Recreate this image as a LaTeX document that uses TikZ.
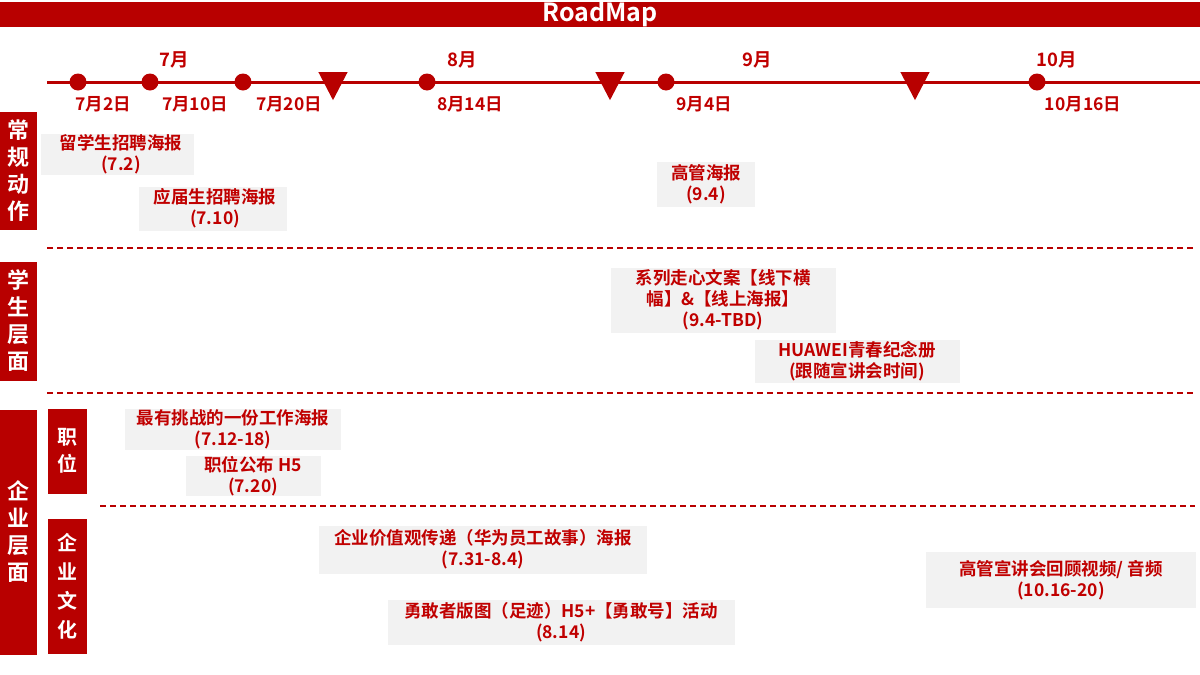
\documentclass[tikz,border=0pt]{standalone}
\usepackage{fontspec}
\usetikzlibrary{shapes.geometric}
\newfontfamily\cjk{Noto Sans CJK SC Bold}
\definecolor{hr}{HTML}{B80000}
\definecolor{tr}{HTML}{C00000}
\definecolor{bx}{HTML}{F2F2F2}
\begin{document}
\begin{tikzpicture}[x=1pt,y=-1pt,
  lab/.style={text=tr,font=\cjk\fontsize{17.5}{21}\selectfont,align=center,inner sep=0},
  side/.style={text=white,font=\cjk\fontsize{22}{27}\selectfont,align=center,inner sep=0},
  dot/.style={circle,fill=hr,minimum size=17pt,inner sep=0},
  tri/.style={isosceles triangle,shape border rotate=-90,fill=hr,minimum width=22pt,minimum height=28pt,inner sep=0,isosceles triangle apex angle=55},
  mon/.style={text=tr,font=\cjk\fontsize{18.5}{22}\selectfont,inner sep=0},
  day/.style={text=tr,font=\cjk\fontsize{17.5}{20}\selectfont,inner sep=0},
  dashline/.style={draw=hr,line width=1.5pt,dash pattern=on 6pt off 4pt}]
\useasboundingbox (0,0) rectangle (1200,675);
\fill[hr] (0,2) rectangle (1200,27);
\node[text=white,font=\cjk\fontsize{25}{26}\selectfont] (title) at (600,14) {RoadMap};
% timeline
\coordinate (ls) at (47,82); \coordinate (le) at (1200,82);
\draw[hr,line width=3pt] (ls) -- (le);
\foreach \n/\x in {d1/78,d2/150,d3/243,d4/427,d5/666,d6/1037} \node[dot] (\n) at (\x,82) {};
\foreach \n/\x in {t1/333,t2/610,t3/915} \node[tri] (\n) at (\x,81) {};
\node[mon] (m7) at (174,60) {7月};
\node[mon] (m8) at (462,60) {8月};
\node[mon] (m9) at (757,60) {9月};
\node[mon] (m10) at (1057,60) {10月};
\node[day] (a1) at (103,104) {7月2日};
\node[day] (a2) at (195,104) {7月10日};
\node[day] (a3) at (289,104) {7月20日};
\node[day] (a4) at (470,104) {8月14日};
\node[day] (a5) at (704,104) {9月4日};
\node[day] (a6) at (1083,104) {10月16日};
% side bars
\fill[hr] (0,112) rectangle (37,230); \node[side] (s1) at (18.5,171) {常\\规\\动\\作};
\fill[hr] (0,262) rectangle (37,381); \node[side] (s2) at (18.5,321) {学\\生\\层\\面};
\fill[hr] (0,410) rectangle (37,655); \node[side] (s3) at (18.5,532) {企\\业\\层\\面};
\fill[hr] (48,409) rectangle (87,494); \node[side,font=\cjk\fontsize{20}{27}\selectfont] (s4) at (67.5,451) {职\\位};
\fill[hr] (48,519) rectangle (87,654); \node[side,font=\cjk\fontsize{20}{29}\selectfont] (s5) at (67.5,586) {企\\业\\文\\化};
% dashed
\draw[dashline] (47,248) -- (1195,248);
\draw[dashline] (47,393) -- (1195,393);
\draw[dashline] (100,506) -- (1195,506);
% boxes
\fill[bx] (41,134) rectangle (194,175); \node[lab] (b1) at (121,154) {留学生招聘海报\\(7.2)};
\fill[bx] (139,187) rectangle (287,231); \node[lab] (b2) at (215,208) {应届生招聘海报\\(7.10)};
\fill[bx] (657,162) rectangle (755,207); \node[lab] (b3) at (706,184) {高管海报\\(9.4)};
\fill[bx] (611,268) rectangle (836,333); \node[lab] (b4) at (723,300) {系列走心文案【线下横\\幅】\&【线上海报】\\(9.4-TBD)};
\fill[bx] (755,340) rectangle (960,383); \node[lab] (b5) at (857,361) {HUAWEI青春纪念册\\(跟随宣讲会时间)};
\fill[bx] (125,409) rectangle (341,450); \node[lab] (b6) at (233,429) {最有挑战的一份工作海报\\(7.12-18)};
\fill[bx] (186,456) rectangle (321,496); \node[lab] (b7) at (253,476) {职位公布 H5\\(7.20)};
\fill[bx] (319,526) rectangle (647,574); \node[lab] (b8) at (483,549) {企业价值观传递（华为员工故事）海报\\(7.31-8.4)};
\fill[bx] (388,600) rectangle (735,645); \node[lab] (b9) at (561,622) {勇敢者版图（足迹）H5+【勇敢号】活动\\(8.14)};
\fill[bx] (926,552) rectangle (1196,608); \node[lab] (b10) at (1061,580) {高管宣讲会回顾视频/ 音频\\(10.16-20)};
\end{tikzpicture}
\end{document}
